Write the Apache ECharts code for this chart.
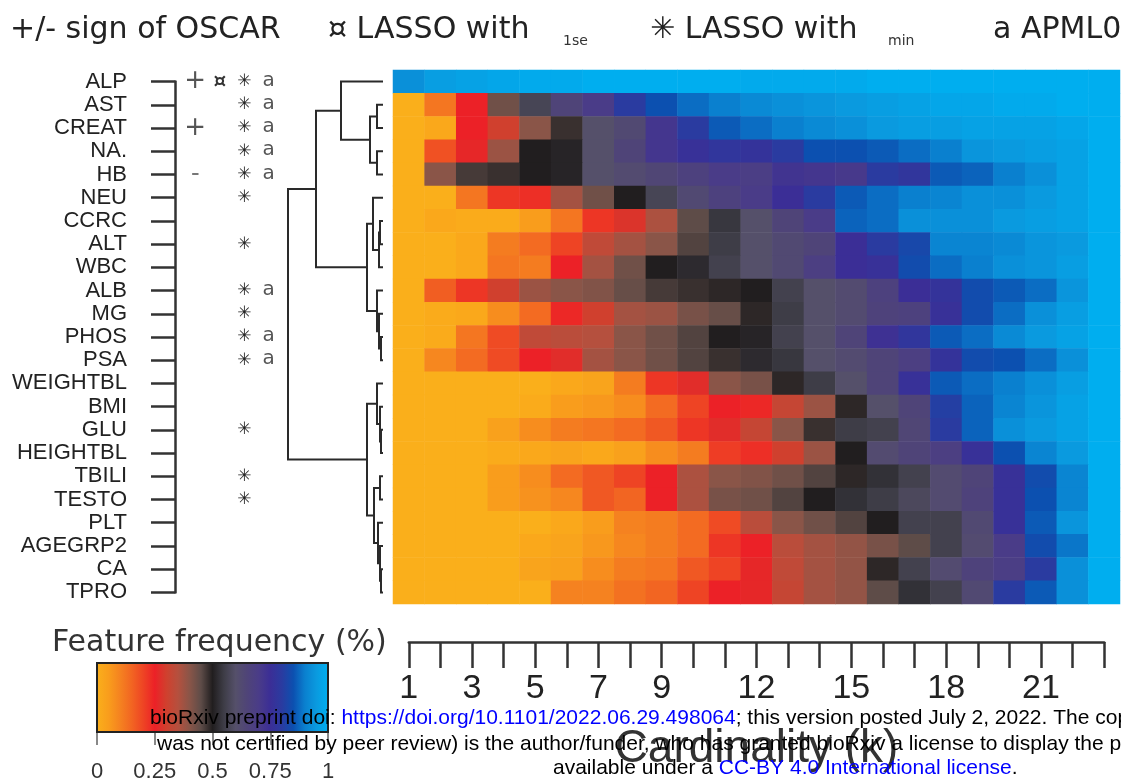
<!DOCTYPE html>
<html>
<head>
<meta charset="utf-8">
<script src="https://cdn.jsdelivr.net/npm/echarts@6/dist/echarts.min.js"></script>
<style>
  html, body { margin: 0; padding: 0; background: #ffffff; }
  #chart { width: 1121px; height: 783px; }
</style>
</head>
<body>
<div id="chart"></div>
<script>
// ---- data ---------------------------------------------------------------
const features = ['ALP', 'AST', 'CREAT', 'NA.', 'HB', 'NEU', 'CCRC', 'ALT', 'WBC', 'ALB', 'MG', 'PHOS', 'PSA',
  'WEIGHTBL', 'BMI', 'GLU', 'HEIGHTBL', 'TBILI', 'TESTO', 'PLT', 'AGEGRP2', 'CA', 'TPRO'];
const cardinality = ['1', '2', '3', '4', '5', '6', '7', '8', '9', '10', '11', '12',
  '13', '14', '15', '16', '17', '18', '19', '20', '21', '22', '23'];
const cardinalityTickLabels = ['1', '3', '5', '7', '9', '12', '15', '18', '21'];

// selection frequency of each feature for cardinality k = 1..23
const freqALP      = [0.93, 0.96, 0.97, 0.98, 0.99, 0.99, 1, 1, 1, 1, 1, 0.99, 0.99, 0.99, 0.99, 1, 1, 1, 1, 1, 1, 1, 1];
const freqAST      = [0, 0.12, 0.25, 0.43, 0.57, 0.65, 0.70, 0.80, 0.85, 0.88, 0.90, 0.92, 0.93, 0.94, 0.95, 0.96, 0.97, 0.98, 0.98, 0.99, 0.99, 1, 1];
const freqCREAT    = [0, 0.02, 0.25, 0.30, 0.40, 0.48, 0.60, 0.63, 0.72, 0.80, 0.86, 0.88, 0.90, 0.92, 0.93, 0.95, 0.96, 0.96, 0.97, 0.97, 0.97, 0.98, 1];
const freqNA       = [0, 0.18, 0.26, 0.38, 0.50, 0.51, 0.60, 0.65, 0.72, 0.76, 0.78, 0.77, 0.80, 0.85, 0.85, 0.86, 0.88, 0.90, 0.94, 0.95, 0.96, 0.97, 1];
const freqHB       = [0, 0.40, 0.47, 0.48, 0.50, 0.51, 0.60, 0.62, 0.64, 0.67, 0.70, 0.69, 0.73, 0.72, 0.71, 0.80, 0.78, 0.86, 0.87, 0.90, 0.93, 0.97, 1];
const freqNEU      = [0, 0, 0.12, 0.22, 0.23, 0.37, 0.43, 0.50, 0.57, 0.63, 0.67, 0.70, 0.75, 0.80, 0.86, 0.88, 0.90, 0.91, 0.93, 0.93, 0.95, 0.97, 1];
const freqCCRC     = [0, 0.02, 0.01, 0.01, 0.05, 0.12, 0.22, 0.28, 0.36, 0.45, 0.54, 0.60, 0.65, 0.70, 0.87, 0.88, 0.93, 0.93, 0.93, 0.95, 0.96, 0.97, 1];
const freqALT      = [0, 0, 0.02, 0.11, 0.14, 0.20, 0.33, 0.37, 0.40, 0.46, 0.55, 0.60, 0.63, 0.65, 0.75, 0.80, 0.83, 0.91, 0.91, 0.92, 0.94, 0.95, 1];
const freqWBC      = [0, 0, 0.02, 0.12, 0.11, 0.25, 0.37, 0.43, 0.50, 0.52, 0.56, 0.60, 0.63, 0.68, 0.75, 0.76, 0.84, 0.88, 0.90, 0.93, 0.94, 0.96, 1];
const freqALB      = [0, 0.16, 0.22, 0.30, 0.38, 0.40, 0.41, 0.44, 0.47, 0.48, 0.49, 0.50, 0.56, 0.60, 0.62, 0.67, 0.75, 0.77, 0.84, 0.86, 0.88, 0.94, 1];
const freqMG       = [0, 0.01, 0.02, 0.08, 0.14, 0.24, 0.30, 0.37, 0.38, 0.42, 0.44, 0.49, 0.55, 0.60, 0.62, 0.66, 0.67, 0.76, 0.84, 0.88, 0.93, 0.96, 1];
const freqPHOS     = [0, 0.01, 0.12, 0.19, 0.33, 0.34, 0.35, 0.40, 0.43, 0.46, 0.50, 0.51, 0.56, 0.60, 0.65, 0.74, 0.78, 0.86, 0.88, 0.92, 0.95, 0.97, 1];
const freqPSA      = [0, 0.09, 0.14, 0.19, 0.25, 0.27, 0.37, 0.40, 0.43, 0.46, 0.48, 0.52, 0.54, 0.60, 0.62, 0.65, 0.68, 0.77, 0.84, 0.85, 0.88, 0.93, 1];
const freqWEIGHTBL = [0, 0, 0, 0, 0, 0.02, 0.03, 0.11, 0.22, 0.27, 0.40, 0.42, 0.49, 0.55, 0.60, 0.65, 0.76, 0.86, 0.88, 0.90, 0.93, 0.96, 1];
const freqBMI      = [0, 0, 0, 0, 0.01, 0.05, 0.06, 0.08, 0.14, 0.20, 0.25, 0.24, 0.32, 0.38, 0.49, 0.60, 0.65, 0.81, 0.87, 0.91, 0.94, 0.97, 1];
const freqGLU      = [0, 0, 0, 0.04, 0.08, 0.11, 0.12, 0.14, 0.17, 0.22, 0.27, 0.32, 0.40, 0.48, 0.55, 0.56, 0.64, 0.80, 0.87, 0.93, 0.95, 0.97, 1];
const freqHEIGHTBL = [0, 0, 0, 0.01, 0.02, 0.03, 0.02, 0.04, 0.08, 0.11, 0.21, 0.23, 0.30, 0.38, 0.50, 0.62, 0.65, 0.68, 0.76, 0.85, 0.91, 0.95, 1];
const freqTBILI    = [0, 0, 0, 0.05, 0.08, 0.14, 0.17, 0.20, 0.25, 0.36, 0.40, 0.41, 0.43, 0.46, 0.49, 0.53, 0.56, 0.62, 0.65, 0.76, 0.84, 0.91, 1];
const freqTESTO    = [0, 0, 0, 0.05, 0.07, 0.09, 0.17, 0.15, 0.25, 0.36, 0.42, 0.43, 0.46, 0.50, 0.53, 0.55, 0.58, 0.62, 0.66, 0.76, 0.85, 0.91, 1];
const freqPLT      = [0, 0, 0, 0, 0, 0.02, 0.05, 0.10, 0.11, 0.14, 0.19, 0.34, 0.40, 0.43, 0.46, 0.50, 0.56, 0.56, 0.63, 0.76, 0.86, 0.94, 1];
const freqAGEGRP2  = [0, 0, 0, 0, 0.02, 0.03, 0.06, 0.09, 0.11, 0.14, 0.22, 0.25, 0.34, 0.37, 0.39, 0.42, 0.45, 0.56, 0.62, 0.70, 0.84, 0.89, 1];
const freqCA       = [0, 0, 0, 0, 0.03, 0.04, 0.08, 0.11, 0.12, 0.17, 0.20, 0.26, 0.33, 0.37, 0.39, 0.49, 0.56, 0.62, 0.66, 0.69, 0.80, 0.93, 1];
const freqTPRO     = [0, 0, 0, 0, 0, 0.10, 0.10, 0.13, 0.15, 0.20, 0.25, 0.26, 0.32, 0.37, 0.39, 0.45, 0.53, 0.56, 0.63, 0.80, 0.86, 0.93, 1];

const frequencyRows = [freqALP, freqAST, freqCREAT, freqNA, freqHB, freqNEU, freqCCRC, freqALT, freqWBC,
  freqALB, freqMG, freqPHOS, freqPSA, freqWEIGHTBL, freqBMI, freqGLU, freqHEIGHTBL, freqTBILI, freqTESTO,
  freqPLT, freqAGEGRP2, freqCA, freqTPRO];

// feature markers per selection method
const oscarSign = ['+', '', '+', '', '-', '', '', '', '', '', '', '', '', '', '', '', '', '', '', '', '', '', ''];
const lasso1se  = ['ALP'];
const lassoMin  = ['ALP', 'AST', 'CREAT', 'NA.', 'HB', 'NEU', 'ALT', 'ALB', 'MG', 'PHOS', 'PSA', 'GLU', 'TBILI', 'TESTO'];
const apml0     = ['ALP', 'AST', 'CREAT', 'NA.', 'HB', 'ALB', 'PHOS', 'PSA'];

// hierarchical clustering of the rows: [left, right, height]
// indices 0-22 are features, 23+ are earlier merges in order
const dendroMerges = [
  [1, 2, 6], [3, 4, 6], [23, 24, 13], [0, 25, 42],
  [6, 7, 3], [27, 8, 4], [5, 28, 10],
  [11, 12, 2], [10, 30, 4], [9, 31, 6],
  [29, 32, 16], [26, 33, 67],
  [15, 16, 2], [14, 35, 3], [13, 36, 6],
  [17, 18, 3], [21, 22, 2], [20, 39, 3], [19, 40, 5],
  [38, 41, 9], [37, 42, 16], [34, 43, 95]
];

// colour scale for frequency 0 .. 1
const palette = ['#FAAF1B', '#F99D1C', '#F58220', '#F26522', '#EE4424', '#EC2127', '#D0402E', '#B5503E',
  '#8A5548', '#5E4C48', '#211E1F', '#3E3D47', '#55506A', '#4F4478', '#4A3C88', '#3B2E96', '#2A3BA0',
  '#0C50B0', '#0A80CF', '#0A9ADF', '#00AEEF'];

// ---- derived structures -------------------------------------------------
const heatData = [];
frequencyRows.forEach((row, r) => row.forEach((v, c) => heatData.push([c, r, v])));

const nodes = features.map((f, i) => ({ h: 0, y: i }));
const dendroSegments = [];
dendroMerges.forEach(([a, b, h]) => {
  const A = nodes[a], B = nodes[b];
  dendroSegments.push({ coords: [[A.h, A.y], [h, A.y], [h, B.y], [B.h, B.y]] });
  nodes.push({ h: h, y: (A.y + B.y) / 2 });
});

const markColumns = ['OSCAR', 'LASSO1se', 'LASSOmin', 'APML0'];
const markItems = [];
features.forEach((f, i) => {
  if (oscarSign[i]) markItems.push({ c: 0, r: i, glyph: oscarSign[i] });
  if (lasso1se.includes(f)) markItems.push({ c: 1, r: i, glyph: '¤' });
  if (lassoMin.includes(f)) markItems.push({ c: 2, r: i, glyph: '✳' });
  if (apml0.includes(f)) markItems.push({ c: 3, r: i, glyph: 'a' });
});
const glyphStyle = {
  '+': { fontSize: 26, fill: '#555', fontWeight: 'normal' },
  '-': { fontSize: 24, fill: '#777', fontWeight: 'normal' },
  '¤': { fontSize: 20, fill: '#333', fontWeight: 'bold' },
  '✳': { fontSize: 17, fill: '#222', fontWeight: 'bold' },
  'a': { fontSize: 20, fill: '#555', fontWeight: 'normal' }
};

const gradientStops = palette.map((c, i) => ({ offset: i / (palette.length - 1), color: c }));

// ---- layout -------------------------------------------------------------
const HM = { left: 393, top: 70, width: 727, height: 534 };
const rowH = HM.height / features.length;
const colW = HM.width / cardinality.length;
const SANS = '"Liberation Sans", Arial, sans-serif';
const VERD = '"DejaVu Sans", Verdana, sans-serif';
const noteStyle = { fontFamily: SANS, fontSize: 21, fill: '#000' };
const linkStyle = { fontFamily: SANS, fontSize: 21, fill: '#0000ff' };

const option = {
  backgroundColor: '#ffffff',
  animation: false,
  grid: [
    { left: HM.left, top: HM.top, width: HM.width, height: HM.height },                       // heatmap
    { left: HM.left - 110, top: HM.top, width: 100, height: HM.height },                       // dendrogram
    { left: 175, top: HM.top + rowH / 2, width: 1, height: HM.height - rowH },                // row labels
    { left: 183, top: HM.top + rowH / 2, width: 98, height: HM.height - rowH },               // markers
    { left: HM.left + colW / 2, top: 615, width: HM.width - colW, height: 27 },               // k axis
    { left: 97, top: 663, width: 231, height: 72 }                                            // colour bar
  ],
  xAxis: [
    { gridIndex: 0, type: 'category', data: cardinality, show: false },
    { gridIndex: 1, type: 'value', min: 0, max: 100, inverse: true, show: false },
    { gridIndex: 2, type: 'value', show: false },
    { gridIndex: 3, type: 'category', data: markColumns, show: false },
    {
      gridIndex: 4, type: 'category', data: cardinality, boundaryGap: false, position: 'top',
      axisLine: { show: true, lineStyle: { color: '#333', width: 2.5 } },
      axisTick: { show: true, inside: true, length: 26, interval: 0, lineStyle: { color: '#333', width: 2.5 } },
      axisLabel: { show: false }, splitLine: { show: false }
    },
    {
      gridIndex: 4, type: 'category', data: cardinality, boundaryGap: false, position: 'bottom',
      axisLine: { show: false }, axisTick: { show: false }, splitLine: { show: false },
      axisLabel: {
        show: true, interval: (idx, val) => cardinalityTickLabels.includes(val),
        fontFamily: SANS, fontSize: 34, color: '#222', margin: 30
      },
      name: 'Cardinality (k)', nameLocation: 'middle', nameGap: 84,
      nameTextStyle: { fontFamily: SANS, fontSize: 46, color: '#333' }
    },
    {
      gridIndex: 5, type: 'value', min: 0, max: 1, interval: 0.25, position: 'bottom',
      axisLine: { show: false }, splitLine: { show: false },
      axisTick: { show: true, length: 13, lineStyle: { color: '#888', width: 2 } },
      axisLabel: { fontFamily: SANS, fontSize: 22, color: '#333', margin: 29 }
    }
  ],
  yAxis: [
    { gridIndex: 0, type: 'category', data: features, inverse: true, show: false },
    { gridIndex: 1, type: 'value', min: -0.5, max: features.length - 0.5, inverse: true, show: false },
    {
      gridIndex: 2, type: 'category', data: features, inverse: true, boundaryGap: false, position: 'left',
      axisLine: { show: true, lineStyle: { color: '#333', width: 2.5 } },
      axisTick: { show: true, length: 24, interval: 0, lineStyle: { color: '#333', width: 2.5 } },
      axisLabel: { interval: 0, margin: 48, fontFamily: SANS, fontSize: 22, color: '#222' },
      splitLine: { show: false }
    },
    { gridIndex: 3, type: 'category', data: features, inverse: true, boundaryGap: false, show: false },
    { gridIndex: 4, type: 'value', show: false },
    { gridIndex: 5, type: 'value', min: 0, max: 1, show: false }
  ],
  visualMap: {
    type: 'continuous', show: false, min: 0, max: 1, dimension: 2, seriesIndex: 0,
    inRange: { color: palette }
  },
  series: [
    {
      type: 'heatmap', xAxisIndex: 0, yAxisIndex: 0, data: heatData,
      itemStyle: { borderWidth: 0 }, emphasis: { disabled: true }, silent: true
    },
    {
      type: 'lines', coordinateSystem: 'cartesian2d', xAxisIndex: 1, yAxisIndex: 1,
      polyline: true, data: dendroSegments, silent: true,
      lineStyle: { color: '#2a2a2a', width: 2, opacity: 1 }
    },
    {
      type: 'custom', xAxisIndex: 3, yAxisIndex: 3, silent: true,
      data: markItems.map(m => [m.c, m.r]),
      renderItem: (params, api) => {
        const m = markItems[params.dataIndex];
        const st = glyphStyle[m.glyph];
        const p = api.coord([api.value(0), api.value(1)]);
        return {
          type: 'text', x: p[0], y: p[1] + (m.glyph === 'a' ? -1 : 0),
          style: {
            text: m.glyph, fill: st.fill, fontSize: st.fontSize, fontWeight: st.fontWeight,
            fontFamily: m.glyph === 'a' ? VERD : '"DejaVu Sans", sans-serif',
            align: 'center', verticalAlign: 'middle'
          }
        };
      }
    },
    {
      type: 'custom', xAxisIndex: 6, yAxisIndex: 5, silent: true, data: [[0, 0]],
      renderItem: (params, api) => {
        const a = api.coord([0, 1]);
        const b = api.coord([1, 0]);
        const shape = { x: a[0], y: a[1], width: b[0] - a[0], height: b[1] - a[1] };
        return {
          type: 'group',
          children: [
            { type: 'rect', shape: shape, style: { fill: new echarts.graphic.LinearGradient(0, 0, 1, 0, gradientStops) } },
            { type: 'rect', shape: shape, style: { fill: 'none', stroke: '#222', lineWidth: 2 } }
          ]
        };
      }
    }
  ],
  graphic: [
    { type: 'text', x: 10, y: 30, style: { text: '+/- sign of OSCAR', fontFamily: VERD, fontSize: 30, fill: '#222', verticalAlign: 'middle' } },
    { type: 'text', x: 328, y: 30, style: { text: '¤ LASSO with', fontFamily: VERD, fontSize: 30, fill: '#222', verticalAlign: 'middle' } },
    { type: 'text', x: 563, y: 41, style: { text: '1se', fontFamily: VERD, fontSize: 14, fill: '#333', verticalAlign: 'middle' } },
    { type: 'text', x: 650, y: 30, style: { text: '✳ LASSO with', fontFamily: VERD, fontSize: 30, fill: '#222', verticalAlign: 'middle' } },
    { type: 'text', x: 888, y: 41, style: { text: 'min', fontFamily: VERD, fontSize: 14, fill: '#333', verticalAlign: 'middle' } },
    { type: 'text', x: 993, y: 30, style: { text: 'a APML0', fontFamily: VERD, fontSize: 30, fill: '#222', verticalAlign: 'middle' } },
    { type: 'text', x: 52, y: 643, style: { text: 'Feature frequency (%)', fontFamily: VERD, fontSize: 30, fill: '#333', verticalAlign: 'middle' } },
    {
      type: 'text', x: 150, y: 718, z: 100,
      style: {
        text: '{k|bioRxiv preprint doi: }{l|https://doi.org/10.1101/2022.06.29.498064}{k|; this version posted July 2, 2022. The copyright holder for this preprint (which}',
        verticalAlign: 'middle', rich: { k: noteStyle, l: linkStyle }
      }
    },
    {
      type: 'text', x: 157, y: 744, z: 100,
      style: Object.assign({
        text: 'was not certified by peer review) is the author/funder, who has granted bioRxiv a license to display the preprint in perpetuity. It is made',
        verticalAlign: 'middle'
      }, noteStyle)
    },
    {
      type: 'text', x: 553, y: 768, z: 100,
      style: {
        text: '{k|available under a }{l|CC-BY 4.0 International license}{k|.}',
        verticalAlign: 'middle', rich: { k: noteStyle, l: linkStyle }
      }
    }
  ]
};

const chart = echarts.init(document.getElementById('chart'), null, { renderer: 'canvas' });
chart.setOption(option);
</script>
</body>
</html>
